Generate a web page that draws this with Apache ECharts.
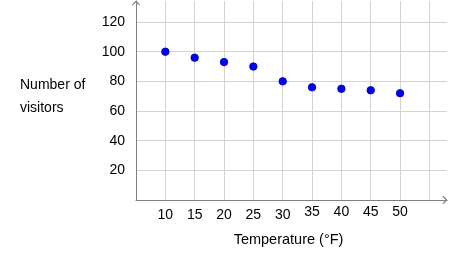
<!DOCTYPE html>
<html>
<head>
<meta charset="utf-8">
<script src="https://cdn.jsdelivr.net/npm/echarts@6/dist/echarts.min.js"></script>
<style>html,body{margin:0;padding:0;background:#fff;}#c{width:450px;height:265px;}</style>
</head>
<body>
<div id="c"></div>
<script>
var temperatures = [10, 15, 20, 25, 30, 35, 40, 45, 50];
var visitors = [100, 96, 93, 90, 80, 76, 75, 74, 72];
var yTickLabels = [20, 40, 60, 80, 100, 120];
var xTickLabels = [10, 15, 20, 25, 30, 35, 40, 45, 50];
var yTitleLines = ['Number of', 'visitors'];
var xTitle = 'Temperature (°F)';

var FONT = 'Liberation Sans, Arial, sans-serif';
var chevron = 'path://M5,0 L10,5 L9,6 L5,2 L1,6 L0,5 Z';
var points = temperatures.map(function (t, i) { return [t, visitors[i]]; });

var chart = echarts.init(document.getElementById('c'), null, {renderer: 'canvas'});
chart.setOption({
  animation: false,
  backgroundColor: '#fff',
  grid: {left: 136, right: 1, top: 1, bottom: 65, containLabel: false},
  xAxis: {
    type: 'value', min: 5, max: 58, interval: 5,
    name: xTitle, nameLocation: 'middle', nameGap: 32,
    nameTextStyle: {fontFamily: FONT, fontSize: 14.5, color: '#000', padding: [0, 6, 0, 0]},
    axisLine: {show: true, lineStyle: {color: '#808080', width: 1}, symbol: ['none', chevron], symbolSize: [9, 5], symbolOffset: [0, -2]},
    axisTick: {show: false},
    splitLine: {show: true, showMinLine: false, showMaxLine: false, lineStyle: {color: '#d3d3d3', width: 1}},
    axisLabel: {
      margin: 5, fontFamily: FONT, fontSize: 14, color: '#000',
      formatter: function (v) {
        if (xTickLabels.indexOf(v) < 0) return '';
        return v <= 30 ? '{lo|' + v + '}' : '{hi|' + v + '}';
      },
      rich: {
        lo: {fontFamily: FONT, fontSize: 14, color: '#000', padding: [3, 0, 0, 0]},
        hi: {fontFamily: FONT, fontSize: 14, color: '#000', padding: [0, 0, 3, 0]}
      }
    }
  },
  yAxis: {
    type: 'value', min: 0, max: 134.2, interval: 20,
    axisLine: {show: true, lineStyle: {color: '#808080', width: 1}, symbol: ['none', chevron], symbolSize: [9, 5], symbolOffset: [0, -2]},
    axisTick: {show: false},
    splitLine: {show: true, showMinLine: false, showMaxLine: false, lineStyle: {color: '#d3d3d3', width: 1}},
    axisLabel: {
      margin: 11, fontFamily: FONT, fontSize: 14, color: '#000',
      formatter: function (v) { return yTickLabels.indexOf(v) >= 0 ? String(v) : ''; }
    }
  },
  graphic: [
    {type: 'text', left: 20, top: 78, style: {text: yTitleLines[0], font: '14px ' + FONT, fill: '#000'}},
    {type: 'text', left: 20, top: 101, style: {text: yTitleLines[1], font: '14px ' + FONT, fill: '#000'}}
  ],
  series: [{
    type: 'scatter',
    data: points,
    symbol: 'circle',
    symbolSize: 7.5,
    itemStyle: {color: '#0000ff', borderColor: '#0000aa', borderWidth: 0.8, opacity: 1}
  }]
});
</script>
</body>
</html>
